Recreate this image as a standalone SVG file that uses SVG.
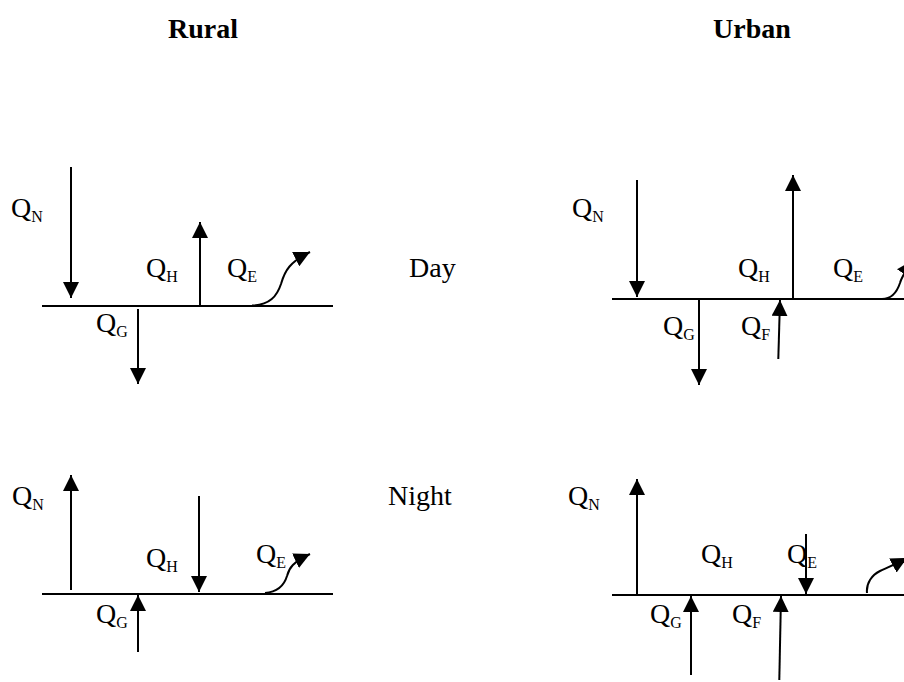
<svg xmlns="http://www.w3.org/2000/svg" width="904" height="682" viewBox="0 0 904 682">
<style>
  text { font-family: "Liberation Serif", "Times New Roman", serif; font-size: 28px; fill: #000; }
  .title { font-weight: bold; }
  .sub { font-size: 16px; }
  .ln { stroke: #000; stroke-width: 2; fill: none; }
  .ar { stroke: #000; stroke-width: 2; fill: none; marker-end: url(#head); }
</style>
<defs>
  <marker id="head" markerUnits="userSpaceOnUse" markerWidth="16" markerHeight="16" viewBox="0 0 15 15" refX="15" refY="7.5" orient="auto">
    <path d="M0,0 L15,7.5 L0,15 Z" fill="#000"/>
  </marker>
</defs>
<rect width="904" height="682" fill="#fff"/>

<g id="titles">
  <text class="title" x="168" y="38">Rural</text>
  <text class="title" x="713" y="38">Urban</text>
  <text x="409" y="277">Day</text>
  <text x="388" y="505">Night</text>
</g>

<g id="ground">
  <line class="ln" x1="42" y1="306" x2="333" y2="306"/>
  <line class="ln" x1="612" y1="299" x2="904" y2="299"/>
  <line class="ln" x1="42" y1="594" x2="333" y2="594"/>
  <line class="ln" x1="612" y1="595" x2="904" y2="595"/>
</g>

<g id="labels-rural-day">
  <text x="11" y="217">Q<tspan class="sub" dy="5">N</tspan></text>
  <text x="146" y="277">Q<tspan class="sub" dy="5">H</tspan></text>
  <text x="227" y="277">Q<tspan class="sub" dy="5">E</tspan></text>
  <text x="96" y="332">Q<tspan class="sub" dy="5">G</tspan></text>
</g>
<g id="labels-urban-day">
  <text x="572" y="217">Q<tspan class="sub" dy="5">N</tspan></text>
  <text x="738" y="277">Q<tspan class="sub" dy="5">H</tspan></text>
  <text x="833" y="277">Q<tspan class="sub" dy="5">E</tspan></text>
  <text x="663" y="335">Q<tspan class="sub" dy="5">G</tspan></text>
  <text x="741" y="335">Q<tspan class="sub" dy="5">F</tspan></text>
</g>
<g id="labels-rural-night">
  <text x="12" y="505">Q<tspan class="sub" dy="5">N</tspan></text>
  <text x="146" y="567">Q<tspan class="sub" dy="5">H</tspan></text>
  <text x="256" y="563">Q<tspan class="sub" dy="5">E</tspan></text>
  <text x="96" y="623">Q<tspan class="sub" dy="5">G</tspan></text>
</g>
<g id="labels-urban-night">
  <text x="568" y="505">Q<tspan class="sub" dy="5">N</tspan></text>
  <text x="701" y="563">Q<tspan class="sub" dy="5">H</tspan></text>
  <text x="787" y="563">Q<tspan class="sub" dy="5">E</tspan></text>
  <text x="650" y="623">Q<tspan class="sub" dy="5">G</tspan></text>
  <text x="732" y="623">Q<tspan class="sub" dy="5">F</tspan></text>
</g>

<g id="connectors">
  <!-- rural day -->
  <line class="ar" x1="71" y1="167" x2="71" y2="298"/>
  <line class="ar" x1="200" y1="306" x2="200" y2="222"/>
  <line class="ar" x1="138" y1="309" x2="138" y2="384"/>
  <path class="ar" d="M252,305.5 C270,305 277,296 281,284 C285,270 290,262 310,252"/>
  <!-- urban day -->
  <line class="ar" x1="637" y1="180" x2="637" y2="297"/>
  <line class="ar" x1="793" y1="299" x2="793" y2="175"/>
  <line class="ar" x1="699" y1="299" x2="699" y2="385"/>
  <line class="ar" x1="778.3" y1="359" x2="780" y2="300"/>
  <path class="ar" d="M882,299 C892,299 897,292 900,283 C901,279 902,276 912.6,260.5"/>
  <!-- rural night -->
  <line class="ar" x1="71" y1="590" x2="71" y2="475"/>
  <line class="ar" x1="199" y1="496" x2="199" y2="592"/>
  <line class="ar" x1="138" y1="652" x2="138" y2="595"/>
  <path class="ar" d="M265,593 C277,592 284,586 287,576 C289,568 293,562 310,554"/>
  <!-- urban night -->
  <line class="ar" x1="637" y1="595" x2="637" y2="479"/>
  <line class="ar" x1="806" y1="534" x2="806" y2="594"/>
  <line class="ar" x1="691" y1="675" x2="691" y2="596"/>
  <line class="ar" x1="779.3" y1="680" x2="781" y2="596"/>
  <path class="ar" d="M867,593 C866,583 872,575 880,571 C886,568 890,567 907,558"/>
</g>
</svg>
